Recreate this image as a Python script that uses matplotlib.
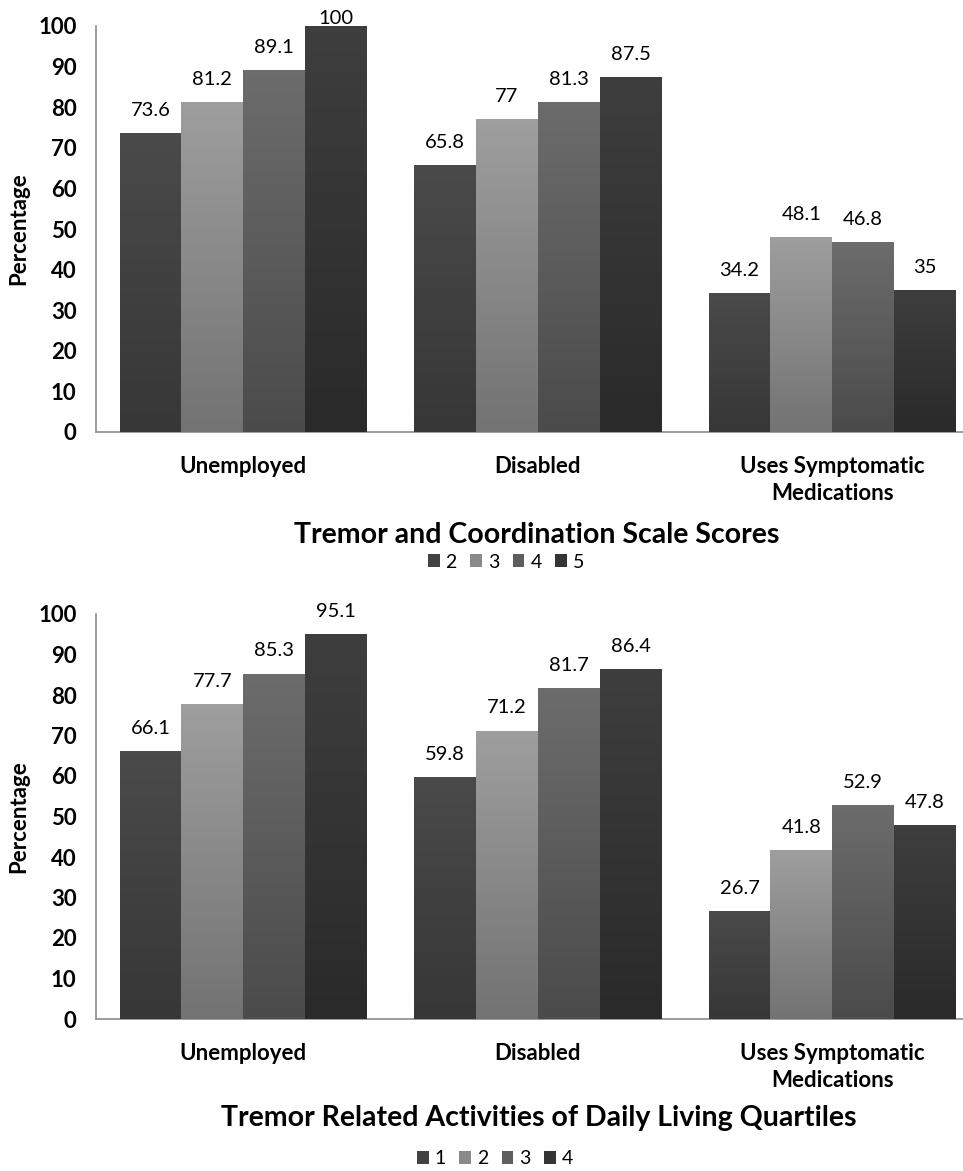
import numpy as np
import matplotlib
matplotlib.use("Agg")
import matplotlib.pyplot as plt
from matplotlib.colors import LinearSegmentedColormap

plt.rcParams['font.family'] = ['Lato', 'DejaVu Sans']

# data
categories = ["Unemployed", "Disabled", "Uses Symptomatic\nMedications"]

top_title = "Tremor and Coordination Scale Scores"
top_series = ["2", "3", "4", "5"]
top_values = [
    [73.6, 65.8, 34.2],
    [81.2, 77, 48.1],
    [89.1, 81.3, 46.8],
    [100, 87.5, 35],
]

bottom_title = "Tremor Related Activities of Daily Living Quartiles"
bottom_series = ["1", "2", "3", "4"]
bottom_values = [
    [66.1, 59.8, 26.7],
    [77.7, 71.2, 41.8],
    [85.3, 81.7, 52.9],
    [95.1, 86.4, 47.8],
]

# (top colour, bottom colour) of each series' gradient
grads = [("#4a4a4a", "#373737"),
         ("#9e9e9e", "#737373"),
         ("#6c6c6c", "#4b4b4b"),
         ("#3e3e3e", "#2a2a2a")]
mids = ["#424242", "#8a8a8a", "#5e5e5e", "#353535"]

bar_w = 0.21
x = np.arange(len(categories))


def fmt(v):
    return f"{v:g}"


def draw(ax, series, values):
    for i, (name, vals) in enumerate(zip(series, values)):
        bars = ax.bar(x + (i - 1.5) * bar_w, vals, bar_w, color=mids[i],
                      label=name, zorder=2, linewidth=0)
        cmap = LinearSegmentedColormap.from_list("g%d" % i, [grads[i][1], grads[i][0]])
        for b, v in zip(bars, vals):
            x0, w, h = b.get_x(), b.get_width(), b.get_height()
            g = np.linspace(0, 1, 64).reshape(-1, 1)
            im = ax.imshow(g, extent=[x0, x0 + w, 0, h], origin='lower',
                           aspect='auto', cmap=cmap, zorder=3)
            im.set_clip_path(b)
            ax.text(x0 + w / 2, min(v + 3.5, 99.7), fmt(v), ha='center',
                    va='bottom', fontsize=14.5, color='black', zorder=4,
                    clip_on=False)
    ax.set_xlim(-0.5, 2.5)
    ax.set_ylim(0, 100)
    ax.set_yticks(range(0, 101, 10))
    ax.set_xticks(x)
    ax.set_xticklabels(categories, fontsize=16, fontweight='bold',
                       linespacing=1.4)
    for t in ax.get_yticklabels():
        t.set_fontweight('bold')
        t.set_fontsize(16)
    ax.tick_params(length=0)
    ax.tick_params(axis='y', pad=14)
    ax.tick_params(axis='x', pad=17)
    for s in ['top', 'right']:
        ax.spines[s].set_visible(False)
    for s in ['left', 'bottom']:
        ax.spines[s].set_color('#8c8c8c')
        ax.spines[s].set_linewidth(1.2)


W, H = 963, 1171
fig = plt.figure(figsize=(W / 100, H / 100), dpi=100)

ax1 = fig.add_axes([96 / W, 1 - 432 / H, 883.5 / W, 406 / H])
draw(ax1, top_series, top_values)
ax2 = fig.add_axes([96 / W, 1 - 1019 / H, 883.5 / W, 405 / H])
draw(ax2, bottom_series, bottom_values)

for ax, title, tx, ty, lx, ly, yl in [(ax1, top_title, 537, 535, 506, 562, 229),
                                      (ax2, bottom_title, 539, 1118, 495, 1159, 817)]:
    fig.text(tx / W, 1 - ty / H, title, ha='center', va='center',
             fontsize=20.5, fontweight='bold')
    h, l = ax.get_legend_handles_labels()
    fig.legend(h, l, loc='center', bbox_to_anchor=(lx / W, 1 - ly / H),
               ncol=4, frameon=False, fontsize=14, handlelength=0.6,
               handleheight=0.6, handletextpad=0.3, columnspacing=0.7,
               borderpad=0)
    fig.text(19 / W, 1 - yl / H, "Percentage", rotation=90, ha='center',
             va='center', fontsize=16, fontweight='bold')

fig.savefig("out.png", dpi=100)
